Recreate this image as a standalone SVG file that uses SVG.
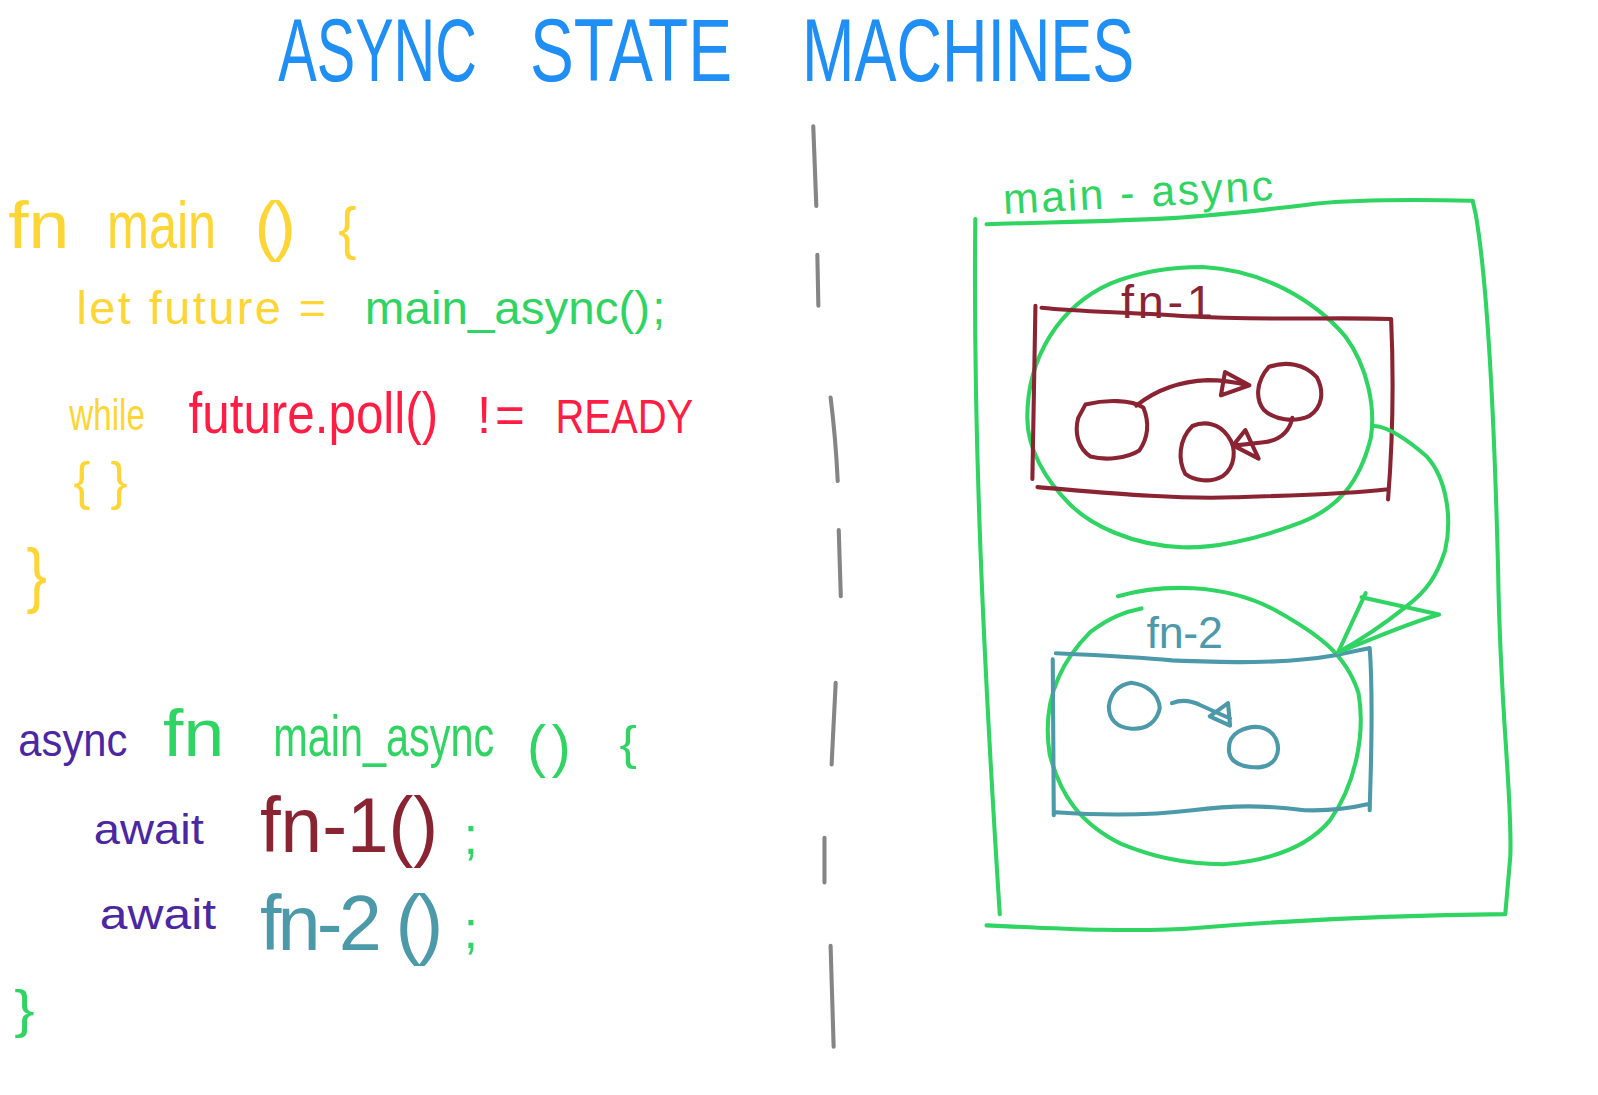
<svg xmlns="http://www.w3.org/2000/svg" width="1598" height="1095" viewBox="0 0 1598 1095">
<style>
text{font-family:"Liberation Sans","DejaVu Sans",sans-serif;}
.s{fill:none;stroke-linecap:round;stroke-linejoin:round;stroke-width:4}
.g{stroke:#2fd462}.r{stroke:#8a2433}.t{stroke:#4c99aa}.k{stroke:#858585}
.ty{fill:#fdd535}.tg{fill:#2fd462}.tr{fill:#ff1d44}.tp{fill:#4b27a3}.td{fill:#8a2433}.tt{fill:#4c99aa}.tb{fill:#1f8ff5}
</style>
<rect width="1598" height="1095" fill="#ffffff"/>
<g transform="scale(1.01913)">
<g id="title">
<text class="tb" font-size="88" transform="translate(273 79) scale(0.643 1)">ASYNC</text>
<text class="tb" font-size="88" transform="translate(520 79) scale(0.733 1)">STATE</text>
<text class="tb" font-size="88" transform="translate(787 79) scale(0.702 1)">MACHINES</text>
</g>
<g id="divider">
<path class="s k" d="M798,124 L801,202 M802,250 L803,300 M815,390 Q820,430 822,472 M823,520 L825,585 M820,670 Q818,710 816,750 M809,822 L809,866 M815,928 L818,1027"/>
</g>
<g id="code-main">
<text class="ty" x="8" y="243" font-size="66" textLength="60" lengthAdjust="spacingAndGlyphs">fn</text>
<text class="ty" font-size="66" transform="translate(105 243) scale(0.748 1)">main</text>
<text class="ty" x="250" y="243" font-size="66" textLength="40" lengthAdjust="spacing">()</text>
<text class="ty" x="332" y="243" font-size="56" textLength="18" lengthAdjust="spacingAndGlyphs">{</text>
<text class="ty" x="75" y="318" font-size="46" textLength="245" lengthAdjust="spacing">let future =</text>
<text class="tg" x="358" y="318" font-size="46" textLength="280" lengthAdjust="spacingAndGlyphs">main_async()</text>
<text class="tg" x="640" y="318" font-size="46">;</text>
<text class="ty" font-size="44" transform="translate(68 422) scale(0.74 1)">while</text>
<text class="tr" font-size="56" transform="translate(185 425) scale(0.865 1)">future.poll()</text>
<text class="tr" x="468" y="425" font-size="50" textLength="47" lengthAdjust="spacing">!=</text>
<text class="tr" font-size="48" transform="translate(545 425) scale(0.818 1)">READY</text>
<text class="ty" x="72" y="490" font-size="50" textLength="53" lengthAdjust="spacing">{ }</text>
<text class="ty" x="26" y="588" font-size="70" textLength="20" lengthAdjust="spacingAndGlyphs">}</text>
</g>
<g id="code-async">
<text class="tp" font-size="46" transform="translate(18 742) scale(0.89 1)">async</text>
<text class="tg" x="160" y="742" font-size="66" textLength="60" lengthAdjust="spacingAndGlyphs">fn</text>
<text class="tg" font-size="56" transform="translate(268 742) scale(0.726 1)">main_async</text>
<text class="tg" x="517" y="752" font-size="56" textLength="43" lengthAdjust="spacing">()</text>
<text class="tg" x="608" y="745" font-size="46" textLength="17" lengthAdjust="spacingAndGlyphs">{</text>
<text class="tp" x="92" y="828" font-size="42" textLength="108" lengthAdjust="spacingAndGlyphs">await</text>
<text class="td" x="255" y="836" font-size="76" textLength="175" lengthAdjust="spacingAndGlyphs">fn-1()</text>
<text class="tg" x="455" y="838" font-size="50">;</text>
<text class="tp" x="98" y="912" font-size="42" textLength="114" lengthAdjust="spacingAndGlyphs">await</text>
<text class="tt" x="255" y="932" font-size="76" textLength="180" lengthAdjust="spacing">fn-2 ()</text>
<text class="tg" x="455" y="930" font-size="50">;</text>
<text class="tg" x="14" y="1008" font-size="50" textLength="20" lengthAdjust="spacingAndGlyphs">}</text>
</g>
<g id="main-async">
<text class="tg" x="985" y="210" font-size="42" textLength="265" lengthAdjust="spacing" transform="rotate(-3 985 210)">main - async</text>
<path class="s g" d="M968,220 C1030,218 1100,217 1150,214 C1200,211 1240,206 1290,200 C1340,195 1400,196 1445,197 M957,215 C955,400 962,600 981,897 M1445,197 L1448,210 C1460,280 1466,400 1470,560 C1472,700 1484,780 1482,840 L1477,897 M968,908 C1050,912 1120,915 1180,910 C1280,902 1380,898 1477,897"/>
</g>
<g id="fn1">
<path class="s g" d="M1008,410 C1008,350 1040,300 1090,278 C1120,266 1150,262 1180,262 C1240,265 1290,295 1320,330 C1342,360 1350,400 1345,430 C1335,470 1315,500 1270,515 C1230,530 1190,538 1160,537 C1110,535 1070,515 1050,495 C1025,470 1008,440 1008,410 Z"/>
<text class="td" x="1100" y="312" font-size="46" textLength="90" lengthAdjust="spacing">fn-1</text>
<path class="s r" d="M1016,300 L1013,470 M1022,302 C1060,306 1100,306 1160,310 C1250,315 1300,311 1365,313 M1365,313 C1368,380 1366,440 1362,490 M1018,478 C1080,483 1150,490 1210,488 C1270,486 1320,485 1362,480"/>
<path class="s r" d="M1065,397 C1085,392 1110,392 1122,400 C1128,415 1126,430 1118,442 C1105,450 1085,452 1070,448 C1058,440 1054,425 1058,410 Z"/>
<path class="s r" d="M1245,360 C1262,354 1280,357 1292,370 C1300,385 1297,400 1285,408 C1270,415 1250,412 1240,402 C1232,392 1232,375 1245,360 Z"/>
<path class="s r" d="M1170,418 C1182,413 1196,415 1205,428 C1214,440 1212,458 1200,467 C1188,474 1172,472 1163,465 C1156,452 1156,432 1170,418 Z"/>
<path class="s r" d="M1115,398 C1135,382 1160,374 1185,373 C1200,373 1212,375 1225,378 M1202,365 L1226,378 L1198,388 Z"/>
<path class="s r" d="M1268,410 C1265,425 1255,432 1240,434 L1213,437 M1222,422 L1210,437 L1235,450 Z"/>
</g>
<g id="fn2">
<path class="s g" d="M1097,585 C1140,573 1200,572 1250,598 C1290,620 1320,640 1333,680 C1340,720 1330,770 1305,805 C1280,835 1240,845 1200,848 C1160,848 1130,840 1100,828 C1060,808 1040,780 1030,740 C1022,690 1040,650 1070,620 C1090,605 1105,600 1120,597"/>
<text class="tt" x="1125" y="636" font-size="44" textLength="75" lengthAdjust="spacing">fn-2</text>
<path class="s t" d="M1033,647 L1034,800 M1036,641 C1080,643 1120,645 1150,648 C1200,650 1260,652 1310,643 L1343,636 M1344,636 C1348,690 1345,750 1344,795 M1036,797 C1080,800 1130,800 1170,795 C1210,790 1240,790 1280,795 C1310,796 1330,792 1343,789"/>
<path class="s t" d="M1110,670 C1125,672 1137,680 1138,695 C1135,708 1126,716 1110,715 C1095,714 1088,705 1088,693 C1090,680 1098,672 1110,670 Z"/>
<path class="s t" d="M1215,718 C1230,710 1245,712 1252,725 C1258,740 1250,752 1235,753 C1220,753 1208,750 1206,738 C1205,728 1208,722 1215,718 Z"/>
<path class="s t" d="M1150,690 C1160,686 1170,688 1178,692 L1207,705 M1205,690 L1207,712 L1187,703 Z"/>
</g>
<g id="connectors">
<path class="s g" d="M1348,418 C1360,418 1380,430 1400,448 C1420,470 1425,510 1418,540 C1410,565 1400,580 1380,595 C1355,615 1335,628 1313,640"/>
<path class="s g" d="M1340,582 L1313,640 M1336,586 L1412,603 M1313,640 C1345,628 1380,612 1412,603"/>
</g>
</g>
</svg>
